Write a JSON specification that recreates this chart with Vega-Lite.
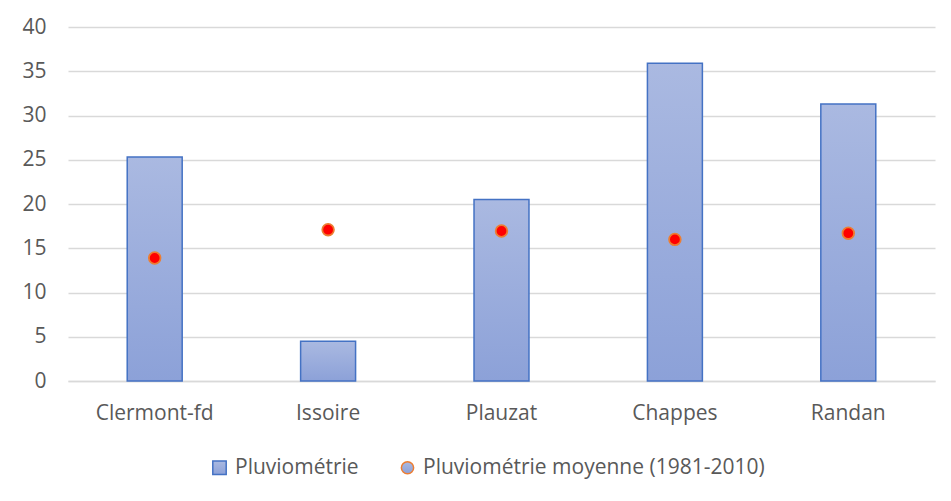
{
  "$schema": "https://vega.github.io/schema/vega-lite/v6.json",
  "width": 867,
  "height": 354,
  "autosize": {"type": "none"},
  "padding": {"left": 68, "top": 27, "right": 16, "bottom": 120},
  "background": "white",
  "config": {
    "view": {"stroke": null},
    "font": "Open Sans",
    "axis": {"labelFont": "Open Sans", "labelColor": "#595959", "labelFontSize": 21, "title": null}
  },
  "data": {
    "values": [
      {"station": "Clermont-fd", "pluvio": 25.3, "moyenne": 13.9},
      {"station": "Issoire", "pluvio": 4.5, "moyenne": 17.1},
      {"station": "Plauzat", "pluvio": 20.5, "moyenne": 16.95},
      {"station": "Chappes", "pluvio": 35.9, "moyenne": 16.0},
      {"station": "Randan", "pluvio": 31.3, "moyenne": 16.7}
    ]
  },
  "encoding": {
    "x": {
      "field": "station",
      "type": "nominal",
      "sort": null,
      "scale": {"paddingInner": 0.683, "paddingOuter": 0.3415},
      "axis": {"labelAngle": 0, "ticks": false, "domainColor": "#d9d9d9", "domainWidth": 1.5, "labelPadding": 21, "grid": false}
    }
  },
  "layer": [
    {
      "mark": {
        "type": "bar",
        "strokeWidth": 1.5,
        "fill": {"gradient": "linear", "x1": 0, "y1": 0, "x2": 0, "y2": 1, "stops": [{"offset": 0, "color": "#aab9e1"}, {"offset": 1, "color": "#8ca1d8"}]}
      },
      "encoding": {
        "y": {
          "field": "pluvio",
          "type": "quantitative",
          "scale": {"domain": [0, 40]},
          "axis": {"values": [0, 5, 10, 15, 20, 25, 30, 35, 40], "domain": false, "ticks": false, "gridColor": "#d9d9d9", "gridWidth": 1.5, "labelPadding": 22}
        },
        "stroke": {
          "datum": "Pluviométrie",
          "scale": {"domain": ["Pluviométrie", "Pluviométrie moyenne (1981-2010)"], "range": ["#4472c4", "#ed7d31"]},
          "legend": {
            "title": null,
            "orient": "none",
            "direction": "horizontal",
            "legendX": 141,
            "legendY": 430,
            "labelFont": "Open Sans",
            "labelFontSize": 21,
            "labelColor": "#595959",
            "labelLimit": 500,
            "labelOffset": 5,
            "columnPadding": 38,
            "symbolStrokeWidth": 1.5,
            "symbolSize": {"expr": "datum.value === 'Pluviométrie' ? 180 : 150"},
            "symbolType": {"expr": "datum.value === 'Pluviométrie' ? 'square' : 'circle'"},
            "encode": {
              "symbols": {
                "update": {
                  "fill": {"signal": "datum.value === 'Pluviométrie' ? '#9cadde' : '#ff0000'"},
                  "fillOpacity": {"value": 1}
                }
              }
            }
          }
        }
      }
    },
    {
      "mark": {"type": "point", "filled": true, "fill": "#ff0000", "size": 135, "strokeWidth": 1.8, "opacity": 1},
      "encoding": {
        "y": {"field": "moyenne", "type": "quantitative"},
        "stroke": {"datum": "Pluviométrie moyenne (1981-2010)"}
      }
    }
  ]
}
